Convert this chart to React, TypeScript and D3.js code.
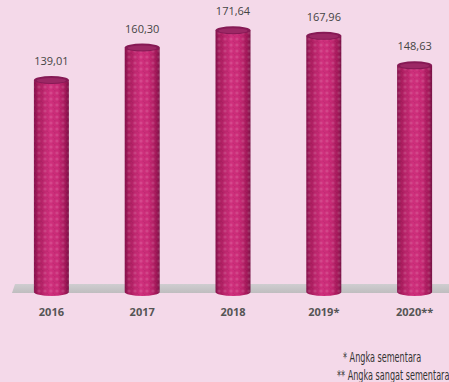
import React from "react";
import * as d3 from "d3";

const years = ["2016", "2017", "2018", "2019*", "2020**"];
const values = [139.01, 160.3, 171.64, 167.96, 148.63];
const valueLabels = ["139,01", "160,30", "171,64", "167,96", "148,63"];
const notes = ["* Angka sementara", "** Angka sangat sementara"];

const W = 449;
const H = 382;

export default function App() {
  const x = d3.scaleBand<string>().domain(years).range([6, 460]).padding(0);
  const y = d3.scaleLinear().domain([0, 180]).range([292, 292 - 180 * 1.525]);
  const barW = 35;
  const capRy = 4;

  return (
    <svg width={W} height={H} style={{ position: "absolute", left: 0, top: 0 }}>
      <defs>
        <linearGradient id="barGrad" x1="0" x2="1" y1="0" y2="0">
          <stop offset="0" stopColor="#85134d" />
          <stop offset="0.12" stopColor="#ab1d5f" />
          <stop offset="0.45" stopColor="#d0307d" />
          <stop offset="0.7" stopColor="#c92a76" />
          <stop offset="0.9" stopColor="#a3195a" />
          <stop offset="1" stopColor="#781246" />
        </linearGradient>
        <pattern id="dots" width="6" height="6" patternUnits="userSpaceOnUse">
          <circle cx="3" cy="3" r="1.6" fill="#ffffff" opacity="0.12" />
          <circle cx="0" cy="0" r="1.6" fill="#000000" opacity="0.06" />
          <circle cx="6" cy="6" r="1.6" fill="#000000" opacity="0.06" />
        </pattern>
        <linearGradient id="floorGrad" x1="0" x2="0" y1="0" y2="1">
          <stop offset="0" stopColor="#cfcdd0" />
          <stop offset="1" stopColor="#bfbdbf" />
        </linearGradient>
      </defs>
      <rect x={0} y={0} width={W} height={H} fill="#f4d9e9" />
      <path d="M15,284 L449,284 L449,293 L12,293 Z" fill="url(#floorGrad)" />
      {years.map((yr, i) => {
        const cx = (x(yr) as number) + x.bandwidth() / 2;
        const top = y(values[i]);
        const bottom = y(0);
        const x0 = cx - barW / 2;
        const body = `M${x0},${top} L${x0},${bottom} A${barW / 2},${capRy} 0 0 0 ${x0 + barW},${bottom} L${x0 + barW},${top} Z`;
        return (
          <g key={yr}>
            <path d={body} fill="url(#barGrad)" />
            <path d={body} fill="url(#dots)" />
            <ellipse cx={cx} cy={top} rx={barW / 2} ry={capRy} fill="#861a55" />
            <ellipse cx={cx} cy={top + 0.5} rx={barW / 2 - 3} ry={capRy - 1.5} fill="#9c2865" />
            <text
              x={cx}
              y={top - 15}
              textAnchor="middle"
              fontFamily="'Open Sans', sans-serif"
              fontSize={11}
              fill="#444444"
            >
              {valueLabels[i]}
            </text>
            <text
              x={cx}
              y={316}
              textAnchor="middle"
              fontFamily="'Open Sans', sans-serif"
              fontWeight="bold"
              fontSize={11}
              fill="#555555"
            >
              {yr}
            </text>
          </g>
        );
      })}
      <text
        x={343}
        y={362}
        fontFamily="'Liberation Sans Narrow', 'DejaVu Sans Condensed', sans-serif"
        fontSize={11}
        fill="#333333"
        transform="translate(343,362) scale(0.82,1.25) translate(-343,-362)"
      >
        {notes[0]}
      </text>
      <text
        x={337}
        y={380}
        fontFamily="'Liberation Sans Narrow', 'DejaVu Sans Condensed', sans-serif"
        fontSize={11}
        fill="#333333"
        transform="translate(337,380) scale(0.82,1.25) translate(-337,-380)"
      >
        {notes[1]}
      </text>
    </svg>
  );
}
